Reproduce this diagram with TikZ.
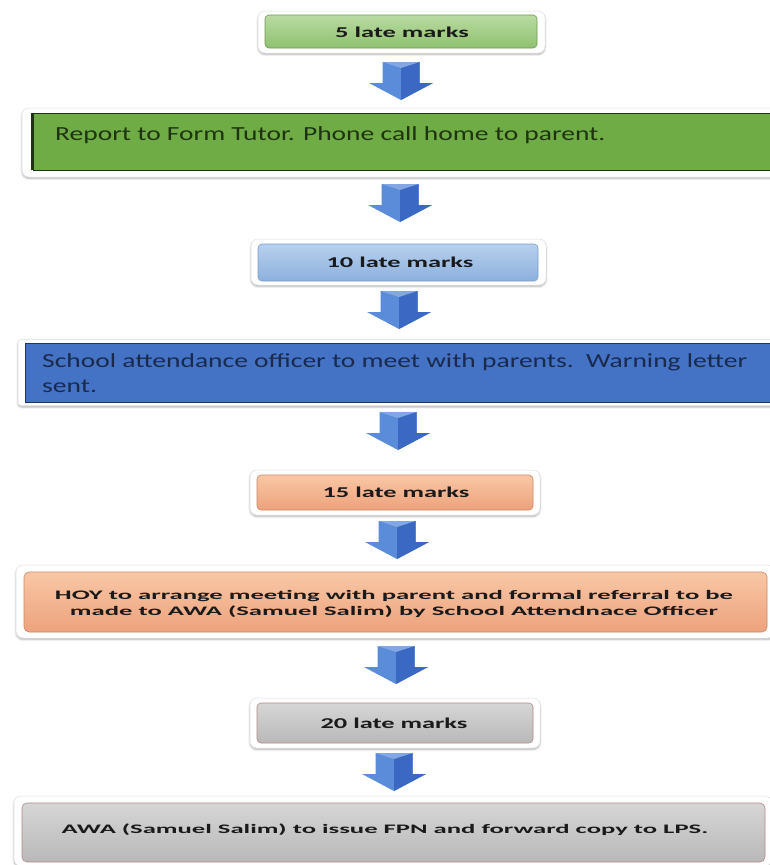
\documentclass[tikz,border=0pt]{standalone}
\usepackage{fontspec}
\setmainfont{Carlito}
\newfontfamily\bs{Carlito}[FakeStretch=1.76]
\newfontfamily\bw{Carlito}[FakeStretch=2.05]
\newfontfamily\rw{Carlito}[FakeStretch=1.375]
\usetikzlibrary{shadows.blur}
\definecolor{gA}{HTML}{B9DBA2}
\definecolor{gB}{HTML}{8FC16F}
\definecolor{gE}{HTML}{6C9A52}
\definecolor{gF}{HTML}{6FAC46}
\definecolor{gD}{HTML}{1E3410}
\definecolor{bA}{HTML}{B7D0EE}
\definecolor{bB}{HTML}{8CB0DE}
\definecolor{bE}{HTML}{7C9CC8}
\definecolor{bF}{HTML}{4472C4}
\definecolor{bD}{HTML}{1F3560}
\definecolor{sA}{HTML}{F9C7A6}
\definecolor{sB}{HTML}{EDA27C}
\definecolor{sE}{HTML}{C98868}
\definecolor{yA}{HTML}{D6D6D6}
\definecolor{yB}{HTML}{B8B8B8}
\definecolor{yE}{HTML}{B58A8A}
\definecolor{arL}{HTML}{5B8CDA}
\definecolor{arR}{HTML}{3A68C2}
\definecolor{txD}{HTML}{1A1A1A}
\tikzset{
  x=1pt, y=-1pt,
  frame/.style={draw=black!12, line width=0.5pt, fill=white, rounded corners=7pt,
    inner sep=0pt, blur shadow={shadow blur steps=6, shadow xshift=0pt, shadow yshift=-1.5pt, shadow opacity=30}},
  inbox/.style={inner sep=0pt, line width=0.6pt},
  txt/.style={anchor=base west, inner sep=0pt, text=txD},
  ctxt/.style={anchor=base, inner sep=0pt, text=txD},
  blockarrow/.pic={
    \fill[arL] (-18.5,0) -- (18.5,0) -- (18.5,21) -- (32,21) -- (0,38) -- (-32,21) -- (-18.5,21) -- cycle;
    \fill[arR] (0,6) -- (18.5,0) -- (18.5,21) -- (32,21) -- (0,38) -- cycle;
    \fill[arL!60!white, opacity=0.6] (-18.5,0) -- (18.5,0) -- (0,6) -- cycle;
  }
}
\begin{document}
\begin{tikzpicture}
\useasboundingbox (0,0) rectangle (769,865);
% frames
\node[frame, minimum width=287pt, minimum height=42pt] (f1) at (401.5,32) {};
\node[frame, minimum width=758pt, minimum height=69pt] (f2) at (401,142.5) {};
\node[frame, minimum width=295pt, minimum height=46pt] (f3) at (398.5,262) {};
\node[frame, rounded corners=3pt, minimum width=762pt, minimum height=66pt] (f4) at (399,372.5) {};
\node[frame, minimum width=290pt, minimum height=45pt] (f5) at (395,492.5) {};
\node[frame, minimum width=759pt, minimum height=73pt] (f6) at (395.5,601.5) {};
\node[frame, minimum width=290pt, minimum height=50pt] (f7) at (395,723) {};
\node[frame, minimum width=758pt, minimum height=70pt] (f8) at (393,831) {};
% inner boxes
\node[inbox, draw=gE, rounded corners=4pt, top color=gA, bottom color=gB, minimum width=272pt, minimum height=33pt] (b1) at (401,31.5) {};
\node[inbox, draw=gD, fill=gF, minimum width=742pt, minimum height=57pt] (b2) at (404,141.5) {};
\draw[gD, line width=3pt] (b2.north west) -- (b2.south west);
\node[inbox, draw=bE, rounded corners=4pt, top color=bA, bottom color=bB, minimum width=280pt, minimum height=37pt] (b3) at (398,262.5) {};
\node[inbox, draw=bD, fill=bF, minimum width=750pt, minimum height=59pt] (b4) at (400,372.5) {};
\node[inbox, draw=sE, rounded corners=4pt, top color=sA, bottom color=sB, minimum width=276pt, minimum height=35pt] (b5) at (395,492.5) {};
\node[inbox, draw=sE, rounded corners=5pt, top color=sA, bottom color=sB, minimum width=743pt, minimum height=60pt] (b6) at (395.5,602) {};
\node[inbox, draw=yE, rounded corners=4pt, top color=yA, bottom color=yB, minimum width=276pt, minimum height=40pt] (b7) at (395,723) {};
\node[inbox, draw=yE, rounded corners=5pt, top color=yA, bottom color=yB, minimum width=743pt, minimum height=59pt] (b8) at (393.5,832.5) {};
% texts
\node[ctxt] (t1) at (402,37) {\bs\bfseries\fontsize{15}{18}\selectfont 5 late marks};
\node[txt, text=gD] (t2) at (55,140) {\rw\fontsize{20}{24}\selectfont Report to Form Tutor. Phone call home to parent.};
\node[ctxt] (t3) at (400,267) {\bs\bfseries\fontsize{15}{18}\selectfont 10 late marks};
\node[txt, text=bD!80!black] (t4a) at (42,367) {\rw\fontsize{20}{24}\selectfont School attendance officer to meet with parents.\ \ Warning letter};
\node[txt, text=bD!80!black] (t4b) at (42,392) {\rw\fontsize{20}{24}\selectfont sent.};
\node[ctxt] (t5) at (396,497) {\bs\bfseries\fontsize{15}{18}\selectfont 15 late marks};
\node[ctxt] (t6a) at (394,599) {\bw\bfseries\fontsize{13}{16}\selectfont HOY to arrange meeting with parent and formal referral to be};
\node[ctxt] (t6b) at (394,615) {\bw\bfseries\fontsize{13}{16}\selectfont made to AWA (Samuel Salim) by School Attendnace Officer};
\node[ctxt] (t7) at (394,728) {\bs\bfseries\fontsize{15}{18}\selectfont 20 late marks};
\node[ctxt] (t8) at (385,833) {\bw\bfseries\fontsize{13}{16}\selectfont AWA (Samuel Salim) to issue FPN and forward copy to LPS.};
% arrows
\pic at (401,62) {blockarrow};
\pic at (400,184) {blockarrow};
\pic at (399,291) {blockarrow};
\pic at (398,412) {blockarrow};
\pic at (397,521) {blockarrow};
\pic at (396,646) {blockarrow};
\pic at (394,753) {blockarrow};
\end{tikzpicture}
\end{document}
